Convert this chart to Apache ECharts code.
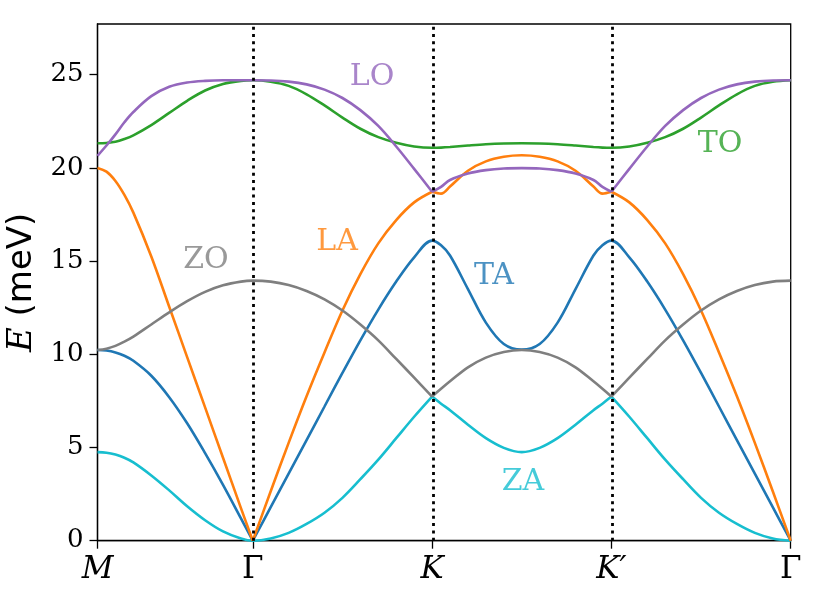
<!DOCTYPE html>
<html>
<head>
<meta charset="utf-8">
<script src="https://cdn.jsdelivr.net/npm/echarts@6/dist/echarts.min.js"></script>
<style>
html,body{margin:0;padding:0;background:#fff;}
#c{width:831px;height:601px;}
</style>
</head>
<body>
<div id="c"></div>
<script>
// path coordinate (|ΓK| = 1): M=0, Γ=0.866, K=1.866, K'=2.866, Γ=3.866
const xPos = [0,0.05,0.1,0.15,0.2,0.3,0.4,0.5,0.6,0.7,0.8,0.866,
  0.966,1.066,1.166,1.266,1.366,1.466,1.566,1.666,1.766,1.866,
  1.916,1.966,2.066,2.166,2.266,2.366,2.466,2.566,2.666,2.766,2.816,2.866,
  2.966,3.066,3.166,3.266,3.366,3.466,3.566,3.666,3.766,3.866];
// indices of Γ (11), K (21), K' (33), end Γ (43)
const tickPos = [0, 0.866, 1.866, 2.866, 3.866];
const tickLabels = ['M', 'Γ', 'K', 'K′', 'Γ'];
const dividers = [0.866, 1.866, 2.866];
const yTicks = [0, 5, 10, 15, 20, 25];

const ZA = [4.75,4.72,4.62,4.45,4.2,3.5,2.7,1.85,1.1,0.5,0.12,0,
  0.12,0.42,0.9,1.5,2.3,3.3,4.35,5.5,6.65,7.73,
  7.35,7.0,6.22,5.5,4.98,4.75,4.98,5.5,6.22,7.0,7.35,7.73,
  6.65,5.5,4.35,3.3,2.3,1.5,0.9,0.42,0.12,0];
const TA = [10.23,10.2,10.1,9.92,9.65,8.85,7.7,6.3,4.7,3.0,1.2,0,
  1.8,3.6,5.4,7.2,9.0,10.75,12.4,13.9,15.2,16.1,
  15.85,15.3,13.5,11.7,10.55,10.25,10.55,11.7,13.5,15.3,15.85,16.1,
  15.2,13.9,12.4,10.75,9.0,7.2,5.4,3.6,1.8,0];
const LA = [20.0,19.8,19.3,18.55,17.6,15.25,12.55,9.85,7.15,4.45,1.75,0,
  2.65,5.25,7.75,10.1,12.35,14.3,15.95,17.2,18.15,18.72,
  18.62,19.0,19.85,20.35,20.6,20.68,20.6,20.35,19.85,19.0,18.62,18.72,
  18.15,17.2,15.95,14.3,12.35,10.1,7.75,5.25,2.65,0];
const ZO = [10.23,10.3,10.45,10.68,10.95,11.6,12.25,12.85,13.35,13.7,13.9,13.95,
  13.9,13.72,13.4,12.95,12.35,11.6,10.75,9.75,8.75,7.73,
  8.15,8.55,9.3,9.82,10.12,10.23,10.12,9.82,9.3,8.55,8.15,7.73,
  8.75,9.75,10.75,11.6,12.35,12.95,13.4,13.72,13.9,13.95];
const TO = [21.32,21.34,21.4,21.55,21.75,22.3,22.95,23.6,24.15,24.5,24.67,24.7,
  24.62,24.4,23.95,23.35,22.7,22.1,21.65,21.35,21.15,21.08,
  21.09,21.12,21.2,21.27,21.31,21.32,21.31,21.27,21.2,21.12,21.09,21.08,
  21.15,21.35,21.65,22.1,22.7,23.35,23.95,24.4,24.62,24.7];
const LO = [20.65,21.2,21.8,22.45,23.0,23.85,24.35,24.58,24.67,24.7,24.7,24.7,
  24.69,24.63,24.48,24.2,23.75,23.1,22.25,21.15,19.95,18.72,
  18.98,19.35,19.7,19.88,19.97,19.99,19.97,19.88,19.7,19.35,18.98,18.72,
  19.95,21.15,22.25,23.1,23.75,24.2,24.48,24.63,24.69,24.7];

// where each band has a corner (index into xPos)
const bands = [
  {name:'ZA', data:ZA, color:'#17becf', corners:[0,21,33,43]},
  {name:'TA', data:TA, color:'#1f77b4', corners:[0,11,43]},
  {name:'LA', data:LA, color:'#ff7f0e', corners:[0,11,21,33,43]},
  {name:'ZO', data:ZO, color:'#7f7f7f', corners:[0,21,33,43]},
  {name:'TO', data:TO, color:'#2ca02c', corners:[0,43]},
  {name:'LO', data:LO, color:'#9467bd', corners:[0,21,33,43]}
];
// annotation anchor points (data coordinates)
const bandLabels = [
  {text:'LO', x:1.531, y:24.88, color:'#9467bd'},
  {text:'TO', x:3.472, y:21.28, color:'#2ca02c'},
  {text:'LA', x:1.336, y:16.0, color:'#ff7f0e'},
  {text:'TA', x:2.211, y:14.2, color:'#1f77b4'},
  {text:'ZO', x:0.605, y:15.05, color:'#7f7f7f'},
  {text:'ZA', x:2.373, y:3.15, color:'#17becf'}
];

const series = [];
bands.forEach(b => {
  for (let s = 0; s < b.corners.length - 1; s++) {
    const pts = [];
    for (let i = b.corners[s]; i <= b.corners[s+1]; i++) pts.push([xPos[i], b.data[i]]);
    series.push({
      type:'line', name:b.name, data:pts, smooth:0.35, symbol:'none',
      lineStyle:{color:b.color, width:2.6}, itemStyle:{color:b.color},
      silent:true, animation:false, z:2
    });
  }
});
series.push({
  type:'scatter', silent:true, animation:false, z:5,
  symbolSize:1, itemStyle:{color:'rgba(0,0,0,0)'},
  data: bandLabels.map(l => ({value:[l.x, l.y], name:l.text,
    label:{show:true, position:'inside', formatter:l.text, color:l.color,
      fontFamily:'DejaVu Serif', fontSize:30}})),
  markLine:{
    silent:true, symbol:'none', animation:false, label:{show:false},
    lineStyle:{color:'#000', width:2.8, type:[3,4.3], cap:'butt'},
    data: dividers.map(d => ({xAxis:d}))
  }
});

const chart = echarts.init(document.getElementById('c'), null, {renderer:'canvas'});
chart.setOption({
  backgroundColor:'#fff',
  animation:false,
  grid:{left:97.5, right:40.3, top:24, bottom:60.3, containLabel:false, outerBoundsMode:'none',
    show:true, borderColor:'#000', borderWidth:1.3, backgroundColor:'transparent'},
  xAxis:{
    type:'value', min:0, max:3.866,
    axisLine:{show:true, onZero:false, lineStyle:{color:'#000', width:1.3}},
    axisTick:{show:true, length:8, customValues:tickPos, lineStyle:{color:'#000', width:1.3}},
    splitLine:{show:false},
    axisLabel:{
      customValues:tickPos, margin:14,
      formatter:(v) => {
        let idx = 0; let best = 1e9;
        tickPos.forEach((p,i) => { if (Math.abs(p-v) < best) { best = Math.abs(p-v); idx = i; } });
        const t = tickLabels[idx];
        return t === 'Γ' ? '{u|Γ}' : '{i|' + t + '}';
      },
      rich:{
        i:{fontFamily:'DejaVu Serif', fontStyle:'italic', fontSize:31, color:'#000'},
        u:{fontFamily:'DejaVu Serif', fontSize:31, color:'#000'}
      }
    }
  },
  yAxis:{
    type:'value', min:0, max:27.72,
    name:'{i|E}{s| }{n|(meV)}', nameLocation:'middle', nameGap:55,
    nameTextStyle:{rich:{
      i:{fontFamily:'DejaVu Serif', fontStyle:'italic', fontSize:34, color:'#000'},
      s:{fontFamily:'DejaVu Sans', fontSize:34, color:'#000'},
      n:{fontFamily:'DejaVu Sans', fontSize:34, color:'#000'}
    }},
    axisLine:{show:true, lineStyle:{color:'#000', width:1.3}},
    axisTick:{show:true, length:8, customValues:yTicks, lineStyle:{color:'#000', width:1.3}},
    splitLine:{show:false},
    axisLabel:{customValues:yTicks, margin:14, fontFamily:'DejaVu Serif', fontSize:26, color:'#000'}
  },
  series: series
});
</script>
</body>
</html>
